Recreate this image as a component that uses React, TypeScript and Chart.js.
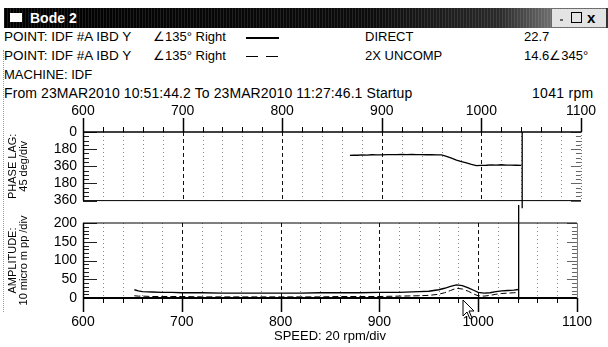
import React, { useEffect, useRef } from "react";
import { Chart, registerables } from "chart.js";
Chart.register(...registerables);

const FONT = '"Liberation Sans", Arial, sans-serif';

// ---- axes ----
const RPM_MIN = 600;
const RPM_MAX = 1100;
const RPM_MINOR = 20;
const RPM_MAJOR = 100;
const X_TICKS = [600, 700, 800, 900, 1000, 1100];
const PHASE_TICK_VALUES = [0, 180, 360, 540, 720];
const PHASE_TICK_LABELS = ["0", "180", "360", "180", "360"];
const AMP_TICK_VALUES = [0, 50, 100, 150, 200];
const CURSOR_RPM = 1041;

// ---- phase (DIRECT) ----
const PHASE_RPM = [868, 872, 876, 880, 885, 890, 895, 900, 905, 910, 915, 920, 925, 930, 935, 940, 945, 950, 955, 960, 965, 970, 975, 980, 985, 990, 995, 1000, 1005, 1010, 1015, 1020, 1025, 1030, 1035, 1040];
const PHASE_DEG = [246, 242, 244, 240, 242, 239, 241, 240, 238, 237, 238, 236, 237, 236, 238, 237, 239, 238, 240, 241, 255, 274, 294, 310, 325, 340, 352, 350, 349, 346, 347, 344, 347, 348, 349, 350];

// ---- amplitude ----
const AMP_RPM = [652, 656, 660, 670, 680, 690, 700, 720, 740, 760, 780, 800, 820, 840, 860, 880, 900, 920, 940, 950, 960, 966, 972, 978, 984, 990, 996, 1000, 1006, 1012, 1018, 1024, 1030, 1036, 1041];
const AMP_DIRECT = [22, 19, 17, 16, 15, 15, 14, 14, 13, 13, 13, 13, 13, 14, 14, 14, 15, 15, 17, 18, 22, 26, 31, 35, 33, 27, 20, 15, 13, 14, 17, 19, 20, 21, 22.7];
const AMP_2X = [6, 5, 5, 4, 4, 4, 4, 3, 3, 3, 3, 3, 3, 3, 4, 4, 4, 5, 6, 7, 10, 14, 20, 26, 24, 18, 10, 6, 5, 7, 10, 12, 13, 14, 14.6];

type GridOpts = {
  yMinor: number;
  yMajor: number;
  xTickSide: "top" | "bottom";
  topBorder: number;
  bottomBorder: number;
  rightDotted: boolean;
};

function makeGridPlugin(id: string, o: GridOpts) {
  return {
    id,
    beforeDatasetsDraw(chart: any) {
      const { ctx, chartArea: a } = chart;
      const xs = chart.scales.x;
      const ys = chart.scales.y;
      const line = (x1: number, y1: number, x2: number, y2: number) => {
        ctx.beginPath();
        ctx.moveTo(x1, y1);
        ctx.lineTo(x2, y2);
        ctx.stroke();
      };
      ctx.save();
      ctx.lineWidth = 1;
      // vertical grid
      for (let v = RPM_MIN + RPM_MINOR; v < RPM_MAX; v += RPM_MINOR) {
        const px = Math.round(xs.getPixelForValue(v)) + 0.5;
        const major = v % RPM_MAJOR === 0;
        ctx.setLineDash(major ? [4, 3] : [1, 3]);
        ctx.strokeStyle = major ? "#111" : "#888";
        line(px, a.top, px, a.bottom);
      }
      ctx.setLineDash([]);
      ctx.strokeStyle = "#000";
      // x tick marks
      for (let v = RPM_MIN; v <= RPM_MAX; v += RPM_MINOR) {
        const px = Math.round(xs.getPixelForValue(v)) + 0.5;
        const major = v % RPM_MAJOR === 0;
        const len = major ? 14 : 5;
        ctx.lineWidth = major ? 1.5 : 1;
        if (o.xTickSide === "top") line(px, a.top - len, px, a.top);
        else line(px, a.bottom, px, a.bottom + len);
      }
      ctx.lineWidth = 1;
      // y tick marks
      for (let v = ys.min; v <= ys.max; v += o.yMinor) {
        const py = Math.round(ys.getPixelForValue(v)) + 0.5;
        const major = v % o.yMajor === 0;
        ctx.strokeStyle = "#222";
        line(a.left, py, a.left + (major ? 14 : 6), py);
        ctx.strokeStyle = "#666";
        line(a.right - (major ? 10 : 5), py, a.right, py);
      }
      // borders
      ctx.strokeStyle = "#000";
      ctx.lineWidth = 1.5;
      line(a.left + 0.5, a.top, a.left + 0.5, a.bottom);
      ctx.lineWidth = o.topBorder;
      line(a.left, a.top, a.right, a.top);
      ctx.lineWidth = o.bottomBorder;
      line(a.left, a.bottom, a.right, a.bottom);
      ctx.lineWidth = 1;
      ctx.strokeStyle = "#777";
      if (o.rightDotted) ctx.setLineDash([1, 2]);
      line(a.right + 0.5, a.top, a.right + 0.5, a.bottom);
      ctx.restore();
    },
  };
}

const tickFont = { family: FONT, size: 14 };
const titleFont = { family: FONT, size: 11, lineHeight: 1 };
const xTickLabel = (v: any) => String(v);

function PhaseChart() {
  const ref = useRef<HTMLCanvasElement>(null);
  useEffect(() => {
    const chart = new Chart(ref.current!, {
      type: "line",
      data: {
        datasets: [
          {
            data: PHASE_RPM.map((r, i) => ({ x: r, y: PHASE_DEG[i] })),
            borderColor: "#000",
            borderWidth: 1.3,
            pointRadius: 0,
          },
          {
            data: [
              { x: CURSOR_RPM, y: 0 },
              { x: CURSOR_RPM, y: 800 },
            ],
            borderColor: "#000",
            borderWidth: 1.3,
            pointRadius: 0,
            clip: false as any,
          },
        ],
      },
      options: {
        responsive: false,
        animation: false,
        layout: { padding: { left: 0, right: 26, top: 0, bottom: 10 } },
        plugins: { legend: { display: false }, tooltip: { enabled: false } },
        scales: {
          x: {
            type: "linear",
            position: "top",
            min: RPM_MIN,
            max: RPM_MAX,
            afterBuildTicks: (s: any) => {
              s.ticks = X_TICKS.map((v) => ({ value: v }));
            },
            ticks: { font: tickFont, color: "#000", padding: 12, maxRotation: 0, autoSkip: false, callback: xTickLabel },
            grid: { display: false, drawTicks: false },
            border: { display: false },
            afterFit: (s: any) => {
              s.height = 32;
            },
          },
          y: {
            type: "linear",
            min: 0,
            max: 720,
            reverse: true,
            afterBuildTicks: (s: any) => {
              s.ticks = PHASE_TICK_VALUES.map((v) => ({ value: v }));
            },
            ticks: {
              font: tickFont,
              color: "#000",
              padding: 6,
              autoSkip: false,
              callback: (v: any) => PHASE_TICK_LABELS[PHASE_TICK_VALUES.indexOf(Number(v))],
            },
            grid: { display: false, drawTicks: false },
            border: { display: false },
            title: { display: true, text: ["PHASE LAG:", "45 deg/div"], font: titleFont, color: "#000", padding: { top: 7, bottom: 0 } },
            afterFit: (s: any) => {
              s.width = 83;
            },
          },
        },
      },
      plugins: [makeGridPlugin("phaseGrid", { yMinor: 45, yMajor: 180, xTickSide: "top", topBorder: 1.5, bottomBorder: 1, rightDotted: true })],
    } as any);
    return () => chart.destroy();
  }, []);
  return <canvas ref={ref} width={608} height={115} style={{ position: "absolute", left: 0, top: 100, width: 608, height: 115 }} />;
}

function AmpChart() {
  const ref = useRef<HTMLCanvasElement>(null);
  useEffect(() => {
    const chart = new Chart(ref.current!, {
      type: "line",
      data: {
        datasets: [
          {
            data: AMP_RPM.map((r, i) => ({ x: r, y: AMP_DIRECT[i] })),
            borderColor: "#000",
            borderWidth: 1.3,
            pointRadius: 0,
          },
          {
            data: AMP_RPM.map((r, i) => ({ x: r, y: AMP_2X[i] })),
            borderColor: "#000",
            borderWidth: 1,
            borderDash: [6, 3],
            pointRadius: 0,
          },
          {
            data: [
              { x: CURSOR_RPM, y: -5 },
              { x: CURSOR_RPM, y: 250 },
            ],
            borderColor: "#000",
            borderWidth: 1.3,
            pointRadius: 0,
            clip: false as any,
          },
        ],
      },
      options: {
        responsive: false,
        animation: false,
        layout: { padding: { left: 0, right: 26, top: 18, bottom: 0 } },
        plugins: { legend: { display: false }, tooltip: { enabled: false } },
        scales: {
          x: {
            type: "linear",
            position: "bottom",
            min: RPM_MIN,
            max: RPM_MAX,
            afterBuildTicks: (s: any) => {
              s.ticks = X_TICKS.map((v) => ({ value: v }));
            },
            ticks: { font: tickFont, color: "#000", padding: 16, maxRotation: 0, autoSkip: false, callback: xTickLabel },
            grid: { display: false, drawTicks: false },
            border: { display: false },
            title: { display: true, text: "SPEED: 20 rpm/div", font: { family: FONT, size: 13 }, color: "#000", padding: { top: 0, bottom: 3 } },
            afterFit: (s: any) => {
              s.height = 49;
            },
          },
          y: {
            type: "linear",
            min: 0,
            max: 200,
            afterBuildTicks: (s: any) => {
              s.ticks = AMP_TICK_VALUES.map((v) => ({ value: v }));
            },
            ticks: { font: tickFont, color: "#000", padding: 6, autoSkip: false },
            grid: { display: false, drawTicks: false },
            border: { display: false },
            title: { display: true, text: ["AMPLITUDE:", "10 micro m pp /div"], font: titleFont, color: "#000", padding: { top: 7, bottom: 0 } },
            afterFit: (s: any) => {
              s.width = 83;
            },
          },
        },
      },
      plugins: [makeGridPlugin("ampGrid", { yMinor: 10, yMajor: 50, xTickSide: "bottom", topBorder: 1, bottomBorder: 2, rightDotted: false })],
    } as any);
    return () => chart.destroy();
  }, []);
  return <canvas ref={ref} width={608} height={142} style={{ position: "absolute", left: 0, top: 205, width: 608, height: 142 }} />;
}

const txt = (left: number, cy: number, s: string, extra: React.CSSProperties = {}) => (
  <div style={{ position: "absolute", left, top: cy - 7, height: 14, lineHeight: "14px", fontSize: 13, fontFamily: FONT, color: "#000", whiteSpace: "nowrap", ...extra }}>{s}</div>
);

export default function App() {
  return (
    <div style={{ position: "absolute", left: 0, top: 0, width: 608, height: 347, background: "#fff", overflow: "hidden" }}>
      {/* title bar */}
      <div
        style={{
          position: "absolute",
          left: 4,
          top: 8,
          width: 604,
          height: 20,
          background:
            "repeating-linear-gradient(90deg, rgba(255,255,255,0.10) 0 1px, transparent 1px 3px), linear-gradient(90deg, #000 0%, #0c0c0c 60%, #2a2a2a 82%, #6a6a6a 90%)",
        }}
      />
      <div style={{ position: "absolute", left: 10, top: 13, width: 12, height: 9, background: "#fff" }} />
      <div style={{ position: "absolute", left: 30, top: 10, height: 16, lineHeight: "16px", fontSize: 14, fontWeight: "bold", fontFamily: FONT, color: "#fff" }}>Bode 2</div>
      <div style={{ position: "absolute", left: 552, top: 9, width: 54, height: 18, background: "#e4e4e4" }} />
      <div style={{ position: "absolute", left: 560, top: 19, width: 3, height: 2, background: "#666" }} />
      <div style={{ position: "absolute", left: 571, top: 12, width: 9, height: 9, border: "1.5px solid #000" }} />
      <div style={{ position: "absolute", left: 587, top: 9, height: 18, lineHeight: "18px", fontSize: 15, fontWeight: "bold", fontFamily: FONT, color: "#000" }}>x</div>
      <div style={{ position: "absolute", left: 606, top: 8, width: 2, height: 20, background: "#333" }} />

      {/* header */}
      {txt(4, 37, "POINT: IDF #A IBD Y", { fontSize: 13.5 })}
      {txt(153, 37, "∠135° Right")}
      <div style={{ position: "absolute", left: 246, top: 37, width: 33, height: 1.5, background: "#000" }} />
      {txt(365, 37, "DIRECT")}
      {txt(524, 37, "22.7")}

      {txt(4, 56, "POINT: IDF #A IBD Y", { fontSize: 13.5 })}
      {txt(153, 56, "∠135° Right")}
      <div style={{ position: "absolute", left: 246, top: 56, width: 12, height: 1, background: "#000" }} />
      <div style={{ position: "absolute", left: 266, top: 56, width: 12, height: 1, background: "#000" }} />
      {txt(365, 56, "2X UNCOMP")}
      {txt(524, 56, "14.6∠345°")}

      {txt(4, 75, "MACHINE: IDF")}
      {txt(4, 93, "From 23MAR2010 10:51:44.2 To 23MAR2010 11:27:46.1 Startup", { fontSize: 14, letterSpacing: 0.1 })}
      {txt(532, 93, "1041 rpm", { fontSize: 14, letterSpacing: 0.3 })}

      <div style={{ position: "absolute", left: 3, top: 50, width: 0, height: 262, borderLeft: "1px dotted #999" }} />

      <PhaseChart />
      <AmpChart />

      {/* mouse pointer in the screenshot */}
      <svg style={{ position: "absolute", left: 462, top: 299 }} width={16} height={22} viewBox="0 0 16 22">
        <path d="M1 1 L1 17 L5 13 L8 20 L10 19 L7 12 L12 12 Z" fill="#fff" stroke="#000" strokeWidth={1} />
      </svg>
    </div>
  );
}
